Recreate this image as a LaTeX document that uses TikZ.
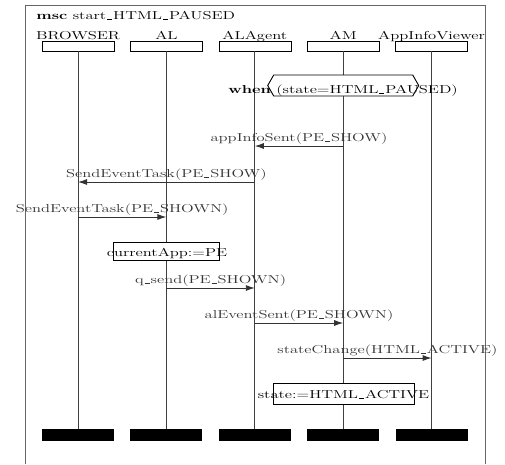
\documentclass[tikz,border=0pt]{standalone}
\usetikzlibrary{calc,positioning,arrows.meta}

% short TeX style underscore
\newcommand{\us}{\kern.06em\rule[-0.2pt]{.3em}{.5pt}\kern.06em}

\begin{document}
\begin{tikzpicture}[
        x=1pt, y=-1pt,
        >={Latex[length=9pt,width=6pt]},
        lbl/.style={font=\fontsize{11.5}{13}\selectfont, inner sep=0pt, xscale=1.44, transform shape},
        instbox/.style={draw, fill=white, minimum width=72pt, minimum height=10pt, inner sep=0pt},
        endbar/.style={fill=black, minimum width=72pt, minimum height=12pt, inner sep=0pt},
        actbox/.style={draw, fill=white, inner sep=0pt},
        life/.style={black!75, line width=0.9pt},
        msg/.style={->, black!80, line width=0.9pt}
      ]

        \useasboundingbox (0,0) rectangle (505,464);

        % Frame ---------------------------------------------------
        \draw[black!60, line width=1pt] (25,464) -- (25,5) -- (485,5) -- (485,464);
        \node[lbl, anchor=base west] (title) at (36,19.5) {\textbf{msc} start\us HTML\us PAUSED};

        % Instances -----------------------------------------------
        \node[instbox] (browser) at (78,46)    {};
        \node[instbox] (al)      at (166.4,46) {};
        \node[instbox] (alagent) at (254.8,46) {};
        \node[instbox] (am)      at (343.2,46) {};
        \node[instbox] (viewer)  at (431.6,46) {};

        \node[lbl, anchor=base] (browser-name) at (78,39)    {BROWSER};
        \node[lbl, anchor=base] (al-name)      at (166.4,39) {AL};
        \node[lbl, anchor=base] (alagent-name) at (254.8,39) {ALAgent};
        \node[lbl, anchor=base] (am-name)      at (343.2,39) {AM};
        \node[lbl, anchor=base] (viewer-name)  at (431.6,39) {AppInfoViewer};

        % Instance ends
        \node[endbar] (browser-end) at (78,435)    {};
        \node[endbar] (al-end)      at (166.4,435) {};
        \node[endbar] (alagent-end) at (254.8,435) {};
        \node[endbar] (am-end)      at (343.2,435) {};
        \node[endbar] (viewer-end)  at (431.6,435) {};

        % Lifelines
        \draw[life] (browser) -- (browser-end);
        \draw[life] (al)      -- (al-end);
        \draw[life] (alagent) -- (alagent-end);
        \draw[life] (am)      -- (am-end);
        \draw[life] (viewer)  -- (viewer-end);

        % Condition -----------------------------------------------
        \coordinate (cond) at (am |- 0,85.5);
        \draw[fill=white, line width=0.9pt]
          ($(cond)+(-75.5,0)$) -- ($(cond)+(-69.5,-10.5)$) -- ($(cond)+(69.5,-10.5)$)
          -- ($(cond)+(75.5,0)$) -- ($(cond)+(69.5,10.5)$) -- ($(cond)+(-69.5,10.5)$) -- cycle;
        \node[lbl, anchor=base west] (cond-text) at (228,93.5)
          {\textbf{when} (state=HTML\us PAUSED)};

        % Messages ------------------------------------------------
        \draw[msg] (am |- 0,146) -- (alagent |- 0,146)
          node[lbl, midway, anchor=base, yshift=5pt] (m1) {appInfoSent(PE\us SHOW)};
        \draw[msg] (alagent |- 0,182) -- (browser |- 0,182)
          node[lbl, midway, anchor=base, yshift=5pt] (m2) {SendEventTask(PE\us SHOW)};
        \draw[msg] (browser |- 0,217) -- (al |- 0,217)
          node[lbl, midway, anchor=base, yshift=5pt] (m3) {SendEventTask(PE\us SHOWN)};

        % Action on AL
        \node[actbox, minimum width=106pt, minimum height=18pt] (setapp) at (al |- 0,251) {};
        \node[lbl, anchor=base] (setapp-text) at (167,256) {currentApp:=PE};

        \draw[msg] (al |- 0,288) -- (alagent |- 0,288)
          node[lbl, midway, anchor=base, yshift=5pt] (m4) {q\us send(PE\us SHOWN)};
        \draw[msg] (alagent |- 0,323) -- (am |- 0,323)
          node[lbl, midway, anchor=base, yshift=5pt] (m5) {alEventSent(PE\us SHOWN)};
        \draw[msg] (am |- 0,358) -- (viewer |- 0,358)
          node[lbl, midway, anchor=base, yshift=5pt] (m6) {stateChange(HTML\us ACTIVE)};

        % Action on AM
        \node[actbox, minimum width=141pt, minimum height=21pt] (setstate) at (am |- 0,393.5) {};
        \node[lbl, anchor=base] (setstate-text) at (343.5,398) {state:=HTML\us ACTIVE};

      \end{tikzpicture}
\end{document}
